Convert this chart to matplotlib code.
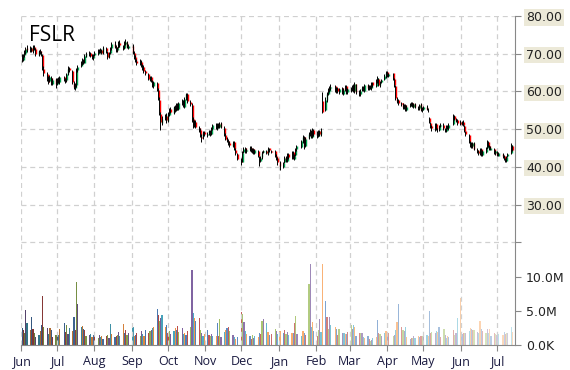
import numpy as np
import pandas as pd
import matplotlib
matplotlib.use("Agg")
import matplotlib.pyplot as plt
import matplotlib.dates as mdates
import matplotlib.colors as mcolors

# ---------------- data ----------------
ticker = "FSLR"
holidays = ["2014-07-04", "2014-09-01", "2014-11-27", "2014-12-25", "2015-01-01",
            "2015-01-19", "2015-02-16", "2015-04-03", "2015-05-25", "2015-07-03"]
dates = pd.bdate_range("2014-06-02", "2015-07-14", freq="C", holidays=holidays)

opens = [
    69.2, 68.4, 69.6, 70.2, 71.4, 70.8, 71.5, 70.6, 71.8, 71.2, 69.6, 70.8, 70.0, 69.6, 66.0, 64.6, 63.6, 62.8, 63.6, 62.0, 63.2,  # jun
    62.0, 63.2, 62.4, 63.8, 63.0, 62.9, 64.6, 66.2, 65.4, 62.2, 61.0, 61.6, 65.6, 66.8, 67.4, 68.4, 67.6, 69.2, 69.6, 70.2, 69.4, 68.8,  # jul
    69.6, 70.0, 70.9, 70.5, 71.0, 70.2, 71.5, 70.4, 69.1, 70.2, 71.4, 72.6, 71.8, 70.9, 71.8, 72.9, 72.0, 71.4, 72.6, 73.1, 71.6,  # aug
    72.1, 70.3, 69.2, 68.0, 67.4, 67.9, 66.6, 66.4, 65.3, 64.6, 63.0, 63.8, 62.6, 61.4, 62.2, 60.4, 57.8, 54.0, 51.6, 52.8, 53.6,  # sep
    52.2, 53.8, 55.4, 54.4, 55.9, 55.2, 56.6, 55.4, 56.9, 57.5, 56.0, 58.2, 59.4, 57.2, 56.4, 52.6, 50.8, 51.9, 50.4, 49.8, 48.0, 47.8, 49.2,  # oct
    48.4, 48.9, 49.6, 48.8, 50.1, 51.2, 50.2, 51.3, 50.6, 51.5, 50.4, 48.4, 47.6, 46.9, 46.4, 45.6, 46.6, 44.6, 43.4,  # nov
    42.0, 41.4, 43.9, 44.9, 44.1, 44.7, 45.1, 44.0, 44.7, 43.7, 44.3, 42.6, 41.5, 42.6, 43.9, 44.3, 43.4, 44.9, 44.3, 44.1, 42.9, 42.3,  # dec
    41.2, 40.0, 41.2, 42.6, 41.6, 43.4, 42.4, 43.9, 42.2, 43.2, 44.8, 45.2, 46.6, 47.9, 45.4, 47.6, 48.6, 49.6, 48.0, 49.8,  # jan
    48.9, 48.3, 49.5, 48.7, 57.4, 55.2, 57.6, 59.4, 60.2, 60.9, 61.4, 60.1, 60.9, 59.8, 60.8, 59.4, 60.3, 61.4, 59.8,  # feb
    60.5, 60.4, 61.6, 60.0, 61.9, 59.9, 59.3, 60.4, 61.2, 60.2, 61.8, 60.6, 61.5, 60.8, 62.4, 61.4, 62.6, 63.4, 61.6, 62.6, 63.2, 64.0,  # mar
    65.1, 64.0, 64.8, 63.2, 61.4, 58.0, 57.6, 56.8, 56.8, 55.6, 56.4, 55.2, 56.2, 56.5, 56.9, 56.0, 56.7, 55.9, 55.5, 56.6, 55.0,  # apr
    55.4, 56.0, 55.2, 53.0, 51.6, 50.8, 50.0, 51.4, 49.8, 49.9, 50.9, 51.2, 50.0, 49.5, 51.0, 50.2, 51.4, 53.6, 52.6, 52.4,  # may
    51.8, 51.3, 51.9, 50.8, 49.4, 48.4, 46.4, 46.2, 45.4, 46.4, 44.6, 44.2, 43.4, 44.8, 43.2, 44.0, 45.0, 46.6, 45.4, 44.6, 44.8, 43.6,  # jun
    44.0, 43.0, 43.4, 42.9, 42.0, 41.6, 42.8, 43.6, 45.6,  # jul
]
highs = [
    69.8, 69.8, 70.9, 71.9, 72.3, 72.1, 71.8, 72.4, 72.2, 71.4, 71.0, 71.2, 70.6, 69.9, 66.7, 65.2, 64.2, 64.4, 64.0, 63.6, 63.5,
    63.6, 63.8, 64.2, 64.2, 63.6, 64.8, 66.7, 66.5, 65.8, 62.8, 62.2, 66.2, 67.0, 68.2, 68.8, 68.6, 69.8, 70.4, 70.6, 70.5, 69.8, 70.0,
    70.6, 71.2, 71.3, 71.4, 71.3, 72.0, 71.9, 70.8, 70.5, 71.8, 73.0, 73.5, 72.2, 71.9, 73.4, 73.6, 72.4, 73.3, 73.8, 73.4, 72.5,
    72.6, 70.8, 69.6, 68.6, 68.6, 68.3, 67.2, 66.9, 65.8, 64.9, 64.2, 64.1, 62.9, 62.8, 62.6, 60.9, 58.4, 54.5, 53.6, 54.1, 54.2,
    54.6, 55.7, 55.8, 56.2, 56.3, 56.9, 56.9, 57.2, 58.1, 57.8, 58.4, 59.7, 59.5, 57.6, 56.9, 53.1, 52.3, 52.3, 50.9, 50.2, 48.6, 49.6, 49.6,
    49.2, 49.8, 49.8, 50.6, 51.4, 51.6, 51.6, 51.7, 51.8, 51.8, 50.8, 48.9, 47.9, 47.3, 46.8, 46.9, 46.9, 45.0, 43.8,
    42.4, 44.2, 45.3, 45.2, 45.0, 45.4, 45.4, 45.0, 44.9, 44.8, 44.6, 42.9, 42.8, 44.2, 44.6, 44.6, 45.2, 45.1, 44.6, 44.4, 43.4, 42.6,
    41.5, 41.4, 42.8, 42.9, 43.6, 43.8, 44.2, 44.3, 43.4, 45.0, 45.9, 47.2, 48.4, 48.2, 47.8, 49.3, 50.1, 49.9, 50.3, 50.1,
    49.5, 49.9, 49.9, 50.3, 59.8, 58.4, 59.9, 61.0, 61.5, 62.0, 61.8, 61.2, 61.3, 61.0, 61.1, 60.9, 61.8, 61.7, 61.0,
    61.2, 61.8, 61.9, 62.6, 62.1, 60.4, 60.6, 61.4, 61.5, 62.0, 62.0, 61.8, 61.7, 62.6, 62.6, 63.2, 64.0, 63.6, 62.8, 63.4, 64.6, 65.4,
    65.3, 64.9, 65.0, 63.5, 61.6, 58.5, 57.9, 57.3, 57.0, 56.6, 56.6, 56.3, 56.8, 57.2, 57.1, 56.9, 57.0, 56.2, 56.7, 56.8, 55.9,
    56.2, 56.5, 55.6, 53.3, 51.9, 51.2, 51.6, 51.6, 50.4, 51.1, 51.5, 51.5, 50.3, 51.2, 51.2, 51.5, 53.9, 53.8, 53.0, 52.6,
    52.4, 52.1, 52.3, 51.0, 49.6, 48.7, 46.8, 46.6, 46.7, 46.6, 45.1, 44.5, 45.0, 45.0, 44.5, 45.2, 47.0, 46.9, 45.8, 45.4, 45.1, 44.6,
    44.3, 44.0, 43.7, 43.2, 42.3, 42.9, 43.8, 46.2, 45.8,
]
lows = [
    67.9, 68.0, 69.2, 69.8, 70.5, 70.4, 70.4, 70.3, 71.0, 69.4, 69.3, 69.9, 69.4, 65.8, 64.2, 62.8, 62.0, 62.5, 61.6, 61.8, 60.8,
    61.8, 62.2, 62.1, 62.8, 62.2, 62.6, 64.4, 65.2, 62.0, 60.6, 60.4, 61.2, 65.2, 66.4, 67.0, 67.3, 67.5, 69.0, 69.4, 69.0, 68.5, 68.4,
    69.3, 69.7, 70.1, 70.1, 69.8, 69.9, 70.3, 68.7, 68.8, 69.9, 71.1, 71.6, 70.4, 70.5, 71.5, 71.9, 71.1, 71.2, 72.3, 71.5, 71.2,
    69.9, 68.5, 67.7, 67.0, 67.1, 66.4, 65.8, 65.0, 64.4, 62.9, 62.8, 62.4, 61.2, 61.0, 60.1, 57.6, 53.8, 49.9, 51.1, 52.3, 51.7,
    51.8, 53.4, 54.2, 54.0, 54.6, 54.8, 55.2, 55.0, 56.5, 55.8, 55.7, 57.8, 57.0, 56.2, 52.0, 50.4, 50.5, 50.2, 49.2, 47.9, 46.5, 47.4, 48.1,
    47.8, 48.5, 48.2, 48.5, 49.8, 50.1, 49.9, 50.4, 50.3, 50.3, 48.3, 47.1, 46.5, 45.8, 45.3, 45.3, 44.5, 43.1, 41.9,
    40.5, 41.2, 43.6, 43.8, 43.8, 44.3, 43.9, 43.8, 43.4, 43.4, 42.5, 40.2, 41.3, 42.2, 43.6, 43.3, 43.2, 44.0, 43.6, 42.7, 41.8, 40.4,
    39.1, 39.6, 40.9, 41.4, 41.3, 42.2, 42.1, 42.1, 41.9, 42.9, 44.3, 44.9, 46.3, 44.8, 45.2, 47.3, 48.3, 47.6, 47.7, 48.3,
    47.6, 48.0, 48.3, 48.2, 54.2, 54.9, 57.2, 59.0, 59.9, 60.4, 59.8, 59.7, 59.6, 59.3, 59.2, 59.0, 60.0, 59.4, 59.4,
    59.8, 60.1, 59.8, 59.6, 59.4, 58.8, 58.9, 60.0, 60.0, 59.9, 60.5, 60.3, 60.6, 60.5, 61.2, 61.1, 62.3, 61.4, 61.2, 62.2, 62.9, 63.6,
    63.8, 63.8, 63.1, 61.2, 57.8, 56.9, 56.5, 56.1, 55.4, 55.3, 54.9, 54.8, 55.8, 56.2, 55.8, 55.7, 55.6, 55.2, 55.2, 54.9, 54.6,
    55.0, 55.1, 54.6, 51.5, 50.3, 49.5, 49.6, 49.7, 49.2, 49.5, 50.5, 49.9, 49.2, 49.3, 50.1, 49.9, 51.2, 52.5, 51.9, 51.2,
    51.1, 51.0, 50.7, 49.3, 48.2, 46.2, 45.3, 45.0, 45.1, 44.5, 43.6, 43.1, 43.1, 43.0, 42.9, 43.7, 44.8, 45.2, 44.5, 44.4, 43.4, 43.1,
    42.9, 42.8, 42.3, 41.8, 41.3, 41.4, 42.5, 43.4, 44.3,
]
closes = [
    68.6, 69.3, 70.4, 71.2, 71.0, 71.6, 70.8, 71.9, 71.3, 69.8, 70.6, 70.2, 69.9, 66.2, 64.8, 63.4, 62.6, 63.8, 62.2, 63.0, 61.9,
    63.0, 62.6, 63.8, 63.2, 62.8, 64.5, 66.0, 65.6, 62.4, 61.2, 61.8, 65.8, 66.5, 67.6, 68.2, 67.8, 69.4, 69.8, 70.1, 69.3, 68.9, 69.5,
    70.2, 70.8, 70.4, 71.0, 70.1, 71.4, 70.6, 69.2, 70.0, 71.3, 72.5, 71.9, 70.8, 71.6, 73.0, 72.2, 71.5, 72.8, 73.2, 71.8, 72.0,
    70.5, 69.0, 68.2, 67.6, 68.0, 66.8, 66.2, 65.5, 64.8, 63.2, 63.6, 62.8, 61.6, 62.4, 60.6, 58.0, 54.2, 51.8, 52.6, 53.4, 52.4,
    54.0, 55.2, 54.6, 55.8, 55.0, 56.4, 55.6, 56.8, 57.6, 56.2, 58.0, 59.2, 57.4, 56.6, 52.4, 51.0, 51.8, 50.6, 49.6, 48.2, 47.6, 49.0, 48.6,
    48.8, 49.4, 48.6, 50.2, 51.0, 50.4, 51.2, 50.8, 51.4, 50.6, 48.6, 47.4, 47.0, 46.2, 45.8, 46.4, 44.8, 43.6, 42.2,
    41.2, 43.8, 44.8, 44.2, 44.6, 45.0, 44.2, 44.6, 43.8, 44.4, 42.8, 41.6, 42.4, 43.8, 44.2, 43.6, 44.8, 44.4, 44.0, 43.0, 42.2, 41.4,
    40.2, 41.0, 42.4, 41.8, 43.2, 42.6, 43.8, 42.4, 43.0, 44.6, 45.4, 46.8, 47.8, 45.6, 47.4, 48.8, 49.4, 48.2, 49.6, 48.8,
    48.4, 49.4, 48.8, 49.6, 54.6, 57.8, 59.2, 60.4, 60.8, 61.2, 60.2, 60.8, 60.0, 60.6, 59.6, 60.4, 61.2, 60.0, 60.6,
    60.6, 61.4, 60.2, 62.0, 59.8, 59.4, 60.2, 61.0, 60.4, 61.6, 60.8, 61.4, 61.0, 62.2, 61.6, 62.8, 63.6, 61.8, 62.4, 63.0, 64.2, 65.0,
    64.2, 64.6, 63.4, 61.6, 58.2, 57.4, 57.0, 56.6, 55.8, 56.2, 55.4, 56.0, 56.4, 56.8, 56.2, 56.6, 56.0, 55.6, 56.4, 55.2, 55.6,
    55.8, 55.4, 55.0, 51.8, 50.6, 50.2, 51.2, 50.0, 49.8, 50.8, 51.0, 50.2, 49.6, 50.8, 50.4, 51.2, 53.4, 52.8, 52.2, 51.6,
    51.4, 51.8, 51.0, 49.6, 48.6, 46.6, 46.0, 45.6, 46.2, 44.8, 44.0, 43.6, 44.6, 43.4, 44.2, 44.8, 46.4, 45.6, 44.8, 45.0, 43.8, 44.2,
    43.2, 43.6, 42.8, 42.2, 41.8, 42.6, 43.4, 45.8, 44.6,
]
# volume, millions of shares
volume_m = [
    2.5, 2.2, 1.8, 5.2, 3.3, 2.2, 4.1, 2.3, 1.8, 1.2, 1.5, 2.0, 2.9, 7.2, 2.6, 2.5, 1.6, 2.5, 2.2, 1.2, 1.5,
    1.6, 1.5, 2.4, 3.2, 1.9, 2.9, 1.6, 2.5, 2.0, 4.1, 2.2, 9.3, 6.1, 2.6, 2.8, 2.3, 2.2, 1.4, 1.5, 1.6, 1.2, 1.5,
    1.3, 1.0, 1.5, 1.2, 1.4, 0.9, 1.3, 1.5, 1.0, 3.1, 1.6, 1.2, 1.4, 1.5, 1.9, 1.3, 3.1, 1.8, 2.2, 1.5, 1.7,
    2.6, 1.4, 1.5, 1.7, 1.3, 2.0, 1.6, 1.4, 2.2, 1.8, 2.0, 2.2, 2.5, 2.7, 5.3, 4.4, 3.6, 4.0, 4.4, 2.6, 2.9,
    1.8, 2.1, 1.6, 2.0, 2.5, 2.2, 2.8, 1.9, 2.5, 1.6, 1.8, 1.5, 2.0, 2.6, 11.1, 4.7, 4.0, 3.6, 4.0, 2.2, 1.7, 1.4, 1.6,
    2.2, 1.5, 1.3, 1.6, 1.4, 1.3, 3.2, 1.4, 3.9, 1.2, 1.9, 2.2, 2.5, 2.6, 2.0, 1.5, 1.2, 0.9, 1.2,
    4.9, 4.6, 3.4, 2.0, 1.6, 1.3, 0.9, 1.5, 1.0, 1.4, 1.2, 1.8, 1.6, 3.6, 3.8, 3.2, 1.9, 1.5, 1.6, 2.4, 2.0, 1.6,
    2.0, 1.8, 2.2, 1.6, 1.9, 1.5, 1.8, 1.7, 3.2, 4.3, 1.6, 1.4, 2.0, 1.7, 1.5, 9.0, 12.0, 2.7, 3.4, 2.1,
    1.3, 2.2, 3.9, 1.9, 12.0, 6.5, 4.2, 2.4, 4.2, 2.9, 2.6, 2.3, 1.5, 2.4, 1.8, 1.7, 1.6, 1.6, 1.9,
    2.9, 2.3, 2.9, 2.6, 1.3, 1.7, 1.8, 1.7, 1.2, 1.1, 1.3, 0.9, 0.6, 0.8, 1.0, 1.2, 3.7, 1.8, 1.6, 1.4, 1.7, 2.0,
    1.5, 1.7, 1.4, 1.5, 2.2, 3.4, 6.0, 2.6, 2.2, 2.0, 2.6, 1.2, 0.9, 1.0, 1.1, 1.3, 1.0, 1.3, 1.2, 1.3, 1.4,
    1.3, 1.5, 1.4, 5.0, 1.8, 1.9, 1.8, 2.0, 1.9, 2.6, 1.2, 2.3, 1.5, 1.1, 1.4, 1.2, 2.2, 1.5, 1.8, 4.0,
    7.0, 1.6, 1.7, 1.7, 1.7, 2.0, 2.5, 2.3, 2.2, 2.2, 1.9, 1.7, 3.6, 2.3, 2.0, 1.8, 2.3, 1.8, 2.4, 1.4, 1.7, 1.6,
    1.5, 1.6, 1.5, 1.9, 1.6, 1.8, 1.8, 2.6, 1.9,
]
price_ticks = [20, 30, 40, 50, 60, 70, 80]
volume_ticks = [0, 5e6, 10e6]
volume_labels = ["0.0K", "5.0M", "10.0M"]

assert len(dates) == len(closes) == len(opens) == len(highs) == len(lows) == len(volume_m)

# ---------------- figure ----------------
fig = plt.figure(figsize=(5.7, 3.7), dpi=100)
ax = fig.add_axes([21 / 570, 25 / 370, 494 / 570, 329 / 370])
ax2 = ax.twinx()
ax.set_zorder(ax2.get_zorder() + 1)
ax.patch.set_visible(False)

x = mdates.date2num(dates)
o = np.array(opens)
h = np.array(highs)
l = np.array(lows)
c = np.array(closes)

# volume bars: office palette, darker at the start and paler towards the end
office = ["#4F81BD", "#C0504D", "#9BBB59", "#8064A2", "#4BACC6", "#F79646"]
n = len(x)
bar_colors = []
for i in range(n):
    base = np.array(mcolors.to_rgb(office[i % len(office)]))
    t = -0.35 + 1.0 * i / (n - 1)
    if t < 0:
        col = base * (1 + t)
    else:
        col = base + (1 - base) * t
    bar_colors.append(col)
ax2.bar(x, np.array(volume_m) * 1e6, width=1.0, color=bar_colors, linewidth=0)
ax2.set_ylim(0, 48.6e6)

# candles
up = c >= o
body_col = np.where(up, "#00A651", "#FF0000")
ax.vlines(x + 0.35, np.minimum(o, c), np.maximum(o, c), colors=body_col, linewidth=1.0, zorder=3)
ax.vlines(x - 0.35, l, h, colors="black", linewidth=0.7, zorder=4)

x0 = mdates.date2num(pd.Timestamp("2014-06-01"))
ax.set_xlim(x0, x0 + 410)
ax.set_ylim(-7.24, 80)

# axes styling
grid_col = "#D0D0D0"
ax.grid(True, color=grid_col, linestyle=(0, (4, 3)), linewidth=0.9)
ax.set_axisbelow(True)
for s in ["left", "top"]:
    ax.spines[s].set_visible(False)
for s in ["bottom", "right"]:
    ax.spines[s].set_color("#888888")
for s in ax2.spines.values():
    s.set_visible(False)

ax.xaxis.set_major_locator(mdates.MonthLocator())
ax.xaxis.set_major_formatter(mdates.DateFormatter("%b"))
ax.tick_params(axis="x", length=4, color="#888888", pad=3, labelsize=9, labelcolor="#1a1a40")
for t in ax.get_xticklabels():
    t.set_family("Open Sans")

ax.yaxis.tick_right()
ax.set_yticks(price_ticks)
ax.set_yticklabels(["" if v == 20 else f"{v:.2f}" for v in price_ticks])
ax.tick_params(axis="y", length=4, color="#888888", pad=4, labelsize=9, labelcolor="#222222")
for t in ax.get_yticklabels():
    t.set_bbox(dict(facecolor="#ECE9D8", edgecolor="none", pad=1.2))

ax2.set_yticks(volume_ticks)
ax2.set_yticklabels(volume_labels)
ax2.tick_params(axis="y", length=4, color="#888888", pad=4, labelsize=9, labelcolor="#222222")

fig.text(29 / 570, (370 - 41) / 370, ticker, fontsize=15, family="Open Sans",
         va="baseline", ha="left", color="black")

fig.savefig("out.png", dpi=100)
